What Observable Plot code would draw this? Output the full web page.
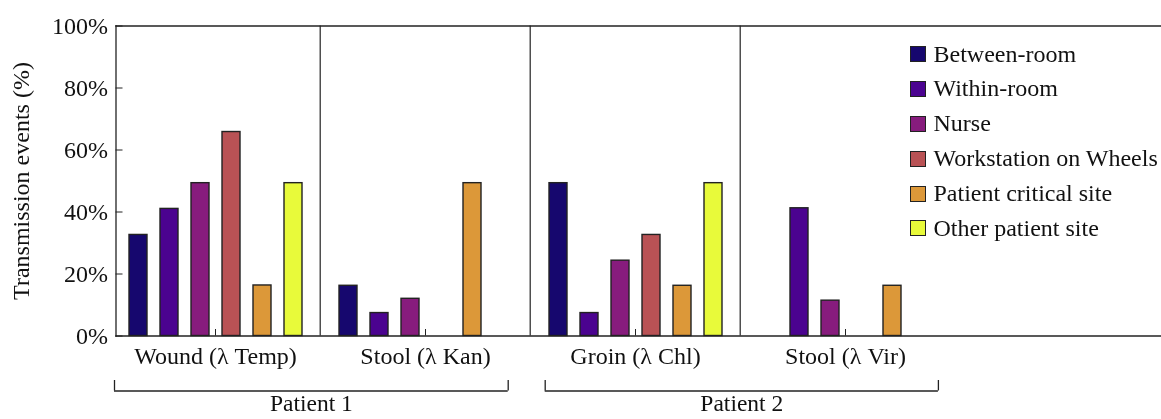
<!DOCTYPE html>
<html>
<head>
<meta charset="utf-8">
<script src="https://cdn.jsdelivr.net/npm/d3@7"></script>
<script src="https://cdn.jsdelivr.net/npm/@observablehq/plot@0.6"></script>
<style>
  html, body { margin: 0; padding: 0; background: #fff; }
  #chart { position: relative; width: 1161px; height: 419px; overflow: hidden; font-family: "Liberation Serif", "Times New Roman", serif; color: #111; }
  #chart svg { display: block; will-change: transform; }
  #legend { position: absolute; left: 910px; top: 36.5px; font-size: 24px; line-height: 34.9px; color: #111; }
  #legend .row { display: flex; align-items: center; height: 34.9px; white-space: nowrap; }
  #legend .sw { width: 16px; height: 16px; box-sizing: border-box; border: 1.5px solid #222; margin-right: 7.5px; flex: none; }
</style>
</head>
<body>
<div id="chart"></div>
<script>
// ---- data ----
const groups = ["Wound (λ Temp)", "Stool (λ Kan)", "Groin (λ Chl)", "Stool (λ Vir)"];
const legendSlot = "legend";   // empty panel holding the legend
const patientOfGroup = ["Patient 1", "Patient 1", "Patient 2", "Patient 2"];
const series = ["Between-room", "Within-room", "Nurse", "Workstation on Wheels", "Patient critical site", "Other patient site"];
const colors = ["#16076e", "#4b0390", "#871c7d", "#b95255", "#dc9839", "#e8fa3a"];
// values (%) per group, in series order; null = no bar
const woundTemp = [32.6, 41.0, 49.3, 65.8, 16.3, 49.3];
const stoolKan  = [16.2, 7.4, 12.0, null, 49.3, null];
const groinChl  = [49.3, 7.4, 24.3, 32.6, 16.2, 49.3];
const stoolVir  = [null, 41.2, 11.4, null, 16.2, null];
const yTicks = [0, 20, 40, 60, 80, 100];

const valuesByGroup = [woundTemp, stoolKan, groinChl, stoolVir];
const rows = [];
groups.forEach((g, gi) => series.forEach((s, si) => {
  const v = valuesByGroup[gi][si];
  if (v != null) rows.push({group: g, series: s, value: v});
}));

const patients = [];
patientOfGroup.forEach((p, i) => {
  let e = patients.find(d => d.name === p);
  if (!e) patients.push(e = {name: p, first: i, last: i});
  e.last = i;
});

// ---- layout / style ----
const W = 1161;
const axisX = 114;                 // pixel position of the y-axis line
const panels = [...groups, legendSlot];
const fxRange = [108.5, 1161.5];
const fxBand = (fxRange[1] - fxRange[0]) / panels.length;
const axisShift = axisX - fxRange[0];
const font = {fontFamily: '"Liberation Serif", "Times New Roman", serif', fontSize: "24px", color: "#111", background: "white", overflow: "visible"};
const lineColor = "#222";
// bracket end insets (left, right) in pixels, per patient bracket
const bracketInsets = [[5.5, 22], [15, 13]];

const main = Plot.plot({
  width: W, height: 372,
  marginTop: 25.5, marginBottom: 36.5, marginLeft: axisX, marginRight: 0,
  style: font,
  fx: {domain: panels, range: fxRange, padding: 0, label: null},
  x: {domain: series, paddingInner: 0.43, paddingOuter: 0.547, align: 0.5, axis: null},
  y: {domain: [0, 100], label: null},
  color: {domain: series, range: colors},
  marks: [
    Plot.barY(rows, {fx: "group", x: "series", y: "value", fill: "series", stroke: lineColor, strokeWidth: 1.4}),
    Plot.ruleX(groups.slice(1), {fx: d => d, x: null, dx: -fxBand / 2, stroke: lineColor, strokeWidth: 1.2}),
    Plot.frame({facet: "super", anchor: "top", dx: axisShift, stroke: lineColor, strokeWidth: 1.3}),
    Plot.frame({facet: "super", anchor: "bottom", dx: axisShift, stroke: lineColor, strokeWidth: 1.3}),
    Plot.frame({facet: "super", anchor: "left", dx: axisShift, stroke: lineColor, strokeWidth: 1.3}),
    Plot.axisY({ticks: yTicks, tickFormat: d => d + "%", tickSize: -7, tickPadding: 15, dx: axisShift,
      label: "Transmission events (%)", labelAnchor: "center", labelArrow: "none", labelOffset: 99,
      stroke: lineColor, fill: "#111", color: "#111", fontSize: 24}),
    Plot.axisFx({anchor: "bottom", ticks: groups, tickSize: -6.5, tickPadding: 17.5, label: null, stroke: lineColor, fill: "#111", fontSize: 24})
  ]
});

const bracketMarks = patients.flatMap((p, i) => {
  const [l, r] = bracketInsets[i];
  return [
    Plot.ruleY([p], {x1: d => d.first - 0.5, x2: d => d.last + 0.5, y: 0, insetLeft: l, insetRight: r, stroke: lineColor, strokeWidth: 1.3}),
    Plot.ruleX([p], {x: d => d.first - 0.5, y1: 0, y2: 1, dx: l, stroke: lineColor, strokeWidth: 1.3}),
    Plot.ruleX([p], {x: d => d.last + 0.5, y1: 0, y2: 1, dx: -r, stroke: lineColor, strokeWidth: 1.3}),
    Plot.text([p], {x: d => (d.first + d.last) / 2, y: 0, text: "name", lineAnchor: "top", dy: 3.5, dx: (l - r) / 2, fontSize: 23.5, fill: "#111"})
  ];
});

const brackets = Plot.plot({
  width: W, height: 47,
  marginTop: 0, marginBottom: 0, marginLeft: 0, marginRight: 0,
  style: font,
  x: {type: "linear", domain: [-0.5, groups.length - 0.5], range: [fxRange[0], fxRange[0] + fxBand * groups.length], axis: null},
  y: {domain: [0, 1], range: [18.5, 8], axis: null},
  marks: bracketMarks
});

const chart = document.getElementById("chart");
chart.appendChild(main);
chart.appendChild(brackets);

// legend built from the plot's color scale
const cs = main.scale("color");
const legend = document.createElement("div");
legend.id = "legend";
cs.domain.forEach((d, i) => {
  const row = document.createElement("div");
  row.className = "row";
  const sw = document.createElement("span");
  sw.className = "sw";
  sw.style.background = cs.range[i];
  const lab = document.createElement("span");
  lab.textContent = d;
  row.appendChild(sw);
  row.appendChild(lab);
  legend.appendChild(row);
});
chart.appendChild(legend);
</script>
</body>
</html>
